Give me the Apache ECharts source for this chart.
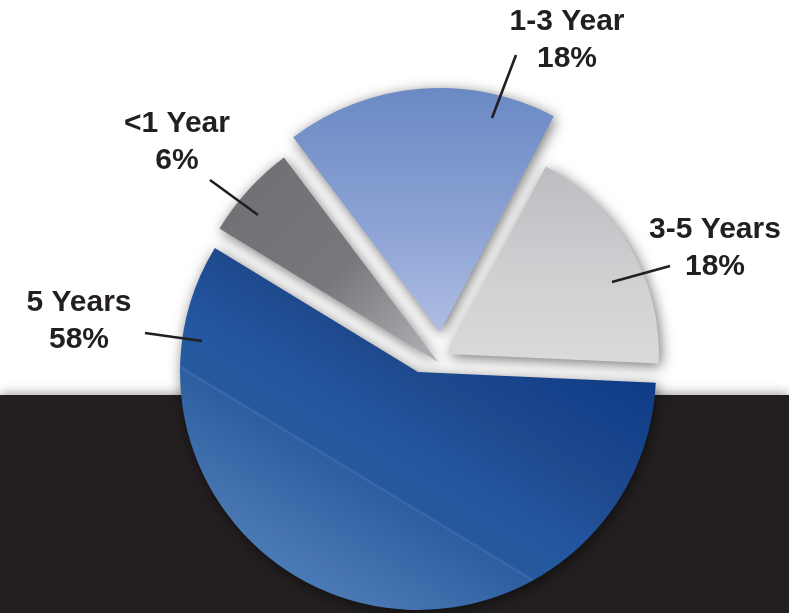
<!DOCTYPE html>
<html>
<head>
<meta charset="utf-8">
<script src="https://cdn.jsdelivr.net/npm/echarts@6/dist/echarts.min.js"></script>
<style>
  html, body { margin: 0; padding: 0; background: #ffffff; }
  #chart { width: 789px; height: 613px; }
</style>
</head>
<body>
<div id="chart"></div>
<script>
// Holding period breakdown
const categories = ['1-3 Year', '3-5 Years', '5 Years', '<1 Year'];
const shares = [18, 18, 58, 6];

// Each wedge is pulled apart from the others, so every slice gets its own pie centre and radius.
const sliceCenters = [[440, 332], [447, 354], [418, 372], [438, 362]];
const sliceRadii = [244, 212, 238, 256];
const sliceZ = [3, 3, 2, 3];
const START_ANGLE = 127;

// Label block centres and leader lines (start inside the wedge, end near the text).
const labelAnchors = [[567, 40], [715, 248], [79, 321], [177, 142]];
const leaderLines = [
  [[492, 118], [516, 55]],
  [[612, 282], [670, 266]],
  [[202, 341], [145, 333]],
  [[258, 215], [210, 180]]
];

const grad = (x, y, x2, y2, stops) => ({
  type: 'linear', x, y, x2, y2,
  colorStops: stops.map(([offset, color]) => ({ offset, color }))
});

const sliceFills = [
  grad(0, 0, 0, 1, [[0, '#6a89c4'], [0.55, '#8ba2d4'], [1, '#aebde3']]),
  grad(0.2, 0, 0.2, 1, [[0, '#bcbdc0'], [0.6, '#d0d1d3'], [1, '#d9dadc']]),
  grad(0.27, 1, 0.73, 0, [[0, '#4f7fbb'], [0.12, '#4574b0'], [0.33, '#2c5ea0'], [0.334, '#3f68ab'],
                          [0.34, '#245a9d'], [0.45, '#2356a0'], [0.6, '#1f4a8e'], [0.8, '#12408a'],
                          [1, '#0a3680']]),
  grad(0, 0, 1, 1, [[0, '#6e6f73'], [0.55, '#77787c'], [1, '#b2b3b6']])
];

const labelStyle = {
  fontFamily: 'Liberation Sans',
  fontWeight: 'bold',
  fontSize: 30,
  lineHeight: 37,
  color: '#231f20',
  align: 'center'
};

const hiddenItem = { color: 'rgba(0,0,0,0)', shadowBlur: 0, borderWidth: 0 };

// One pie per wedge: all values are kept so the angles come from the full data set,
// only the wedge that belongs to this series is painted.
const wedgeSeries = categories.map((_, i) => ({
  type: 'pie',
  center: sliceCenters[i],
  radius: [0, sliceRadii[i]],
  startAngle: START_ANGLE,
  clockwise: true,
  avoidLabelOverlap: false,
  silent: true,
  z: sliceZ[i],
  label: { show: false },
  labelLine: { show: false },
  data: categories.map((name, j) => ({
    name,
    value: shares[j],
    itemStyle: j === i
      ? { color: sliceFills[i], shadowBlur: 14, shadowColor: 'rgba(0,0,0,0.55)', shadowOffsetX: 2, shadowOffsetY: 3, borderWidth: 0 }
      : hiddenItem
  }))
}));

// Labels and leader lines sit above every wedge.
const labelSeries = {
  type: 'pie',
  center: [430, 360],
  radius: [0, 230],
  startAngle: START_ANGLE,
  clockwise: true,
  avoidLabelOverlap: false,
  silent: true,
  z: 10,
  label: Object.assign({ show: true, position: 'outside', formatter: '{b}\n{c}%' }, labelStyle),
  labelLine: { show: true, lineStyle: { color: '#231f20', width: 2.6 } },
  labelLayout: (p) => {
    const i = p.dataIndex;
    const [a, b] = leaderLines[i];
    const mid = [(a[0] + b[0]) / 2, (a[1] + b[1]) / 2];
    return {
      x: labelAnchors[i][0],
      y: labelAnchors[i][1],
      align: 'center',
      verticalAlign: 'middle',
      labelLinePoints: [a, mid, b]
    };
  },
  data: categories.map((name, j) => ({ name, value: shares[j], itemStyle: hiddenItem }))
};

const chart = echarts.init(document.getElementById('chart'), null, { renderer: 'canvas' });
chart.setOption({
  animation: false,
  backgroundColor: '#ffffff',
  graphic: [
    {
      type: 'rect',
      z: -10,
      shape: { x: 0, y: 395, width: 789, height: 218 },
      style: { fill: '#231f20', shadowBlur: 10, shadowColor: 'rgba(0,0,0,0.35)', shadowOffsetY: -2 }
    }
  ],
  series: wedgeSeries.concat([labelSeries])
});
</script>
</body>
</html>
